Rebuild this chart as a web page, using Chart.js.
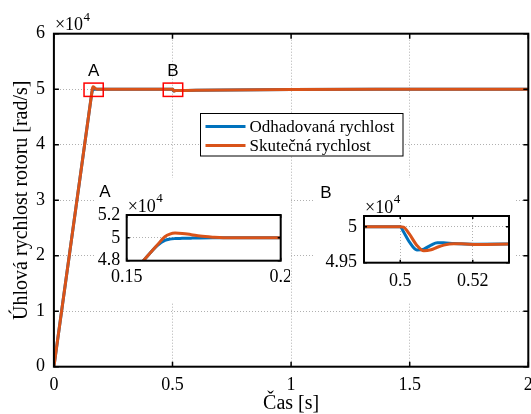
<!DOCTYPE html>
<html>
<head>
<meta charset="utf-8">
<script src="https://cdn.jsdelivr.net/npm/chart.js@4"></script>
<style>
  body { margin: 0; background: #fff; }
  #wrap { position: relative; width: 531px; height: 414px; overflow: hidden; }
  #wrap canvas { position: absolute; }
</style>
</head>
<body>
<div id="wrap">
  <canvas id="main" width="531" height="414" style="left:0;top:0"></canvas>
  <canvas id="zoomA" width="196" height="124" style="left:94px;top:178px"></canvas>
  <canvas id="zoomB" width="201" height="124" style="left:314px;top:178px"></canvas>
</div>
<script>
// time [s] and rotor speed [rad/s]
const time      = [0, 0.15, 0.1554, 0.16, 0.1624, 0.164, 0.1657, 0.168, 0.171, 0.1738, 0.178, 0.1814, 0.19, 0.25, 0.49, 0.5, 0.5009, 0.5025, 0.5046, 0.5065, 0.5085, 0.5102, 0.512, 0.5148, 0.518, 0.5213, 0.53, 0.6, 1.0, 1.5, 2.0];
const estimated = [0, 46330, 48000, 49350, 49780, 49890, 49935, 49955, 49975, 49990, 50000, 50000, 50000, 50000, 50000, 50000, 49930, 49790, 49676, 49690, 49745, 49778, 49776, 49766, 49760, 49757, 49760, 49800, 49930, 49980, 50000];
const actual    = [0, 46330, 48000, 49400, 50100, 50330, 50420, 50390, 50280, 50160, 50060, 50010, 50000, 50000, 50000, 50000, 49995, 49900, 49740, 49665, 49680, 49715, 49745, 49765, 49760, 49755, 49760, 49800, 49930, 49980, 50000];

const seriesLabels = ['Odhadovaná rychlost', 'Skutečná rychlost'];
const seriesColors = ['#0072BD', '#D95319'];

const mainXTicks = [0, 0.5, 1, 1.5, 2];
const mainYTicks = [0, 10000, 20000, 30000, 40000, 50000, 60000];
const zoomAXTicks = [0.15, 0.2];
const zoomAYTicks = [48000, 50000, 52000];
const zoomBXTicks = [0.5, 0.52];
const zoomBYTicks = [49500, 50000];

// zoomed regions marked on the main plot
const boxNames = ['A', 'B'];
const boxX = [[0.127, 0.208], [0.461, 0.543]];
const boxY = [48700, 51100];

const SERIF = '"Liberation Serif", "Times New Roman", serif';
const SANS = '"Liberation Sans", Arial, sans-serif';

function datasets() {
  return [0, 1].map(i => ({
    label: seriesLabels[i],
    data: time.map((t, k) => ({ x: t, y: (i === 0 ? estimated : actual)[k] })),
    borderColor: seriesColors[i],
    backgroundColor: seriesColors[i],
    borderWidth: 3,
    pointRadius: 0,
    fill: false,
    cubicInterpolationMode: 'monotone',
    order: i === 0 ? 1 : 0
  }));
}

function axis(min, max, ticks, pad, fit, fmt, title) {
  const a = {
    type: 'linear', min: min, max: max,
    afterBuildTicks: s => { s.ticks = ticks.map(v => ({ value: v })); },
    afterFit: fit,
    grid: { color: '#b0b0b0', lineWidth: 1, drawTicks: false },
    border: { display: false, dash: [1, 2] },
    ticks: { padding: pad, color: '#000', autoSkip: false, maxRotation: 0,
             font: { family: SERIF, size: 18 }, callback: fmt }
  };
  if (title) a.title = title;
  return a;
}

// box, inward ticks, exponent and panel label
const framePlugin = {
  id: 'frame',
  beforeDraw(chart) {
    const ctx = chart.ctx;
    ctx.save();
    ctx.fillStyle = '#fff';
    ctx.fillRect(0, 0, chart.width, chart.height);
    ctx.restore();
  },
  afterDraw(chart, args, o) {
    const { ctx, chartArea: a, scales: { x, y } } = chart;
    ctx.save();
    ctx.strokeStyle = '#000';
    ctx.lineWidth = 1.5;
    ctx.beginPath();
    x.ticks.forEach(t => {
      const px = x.getPixelForValue(t.value);
      ctx.moveTo(px, a.bottom); ctx.lineTo(px, a.bottom - o.tick);
      ctx.moveTo(px, a.top); ctx.lineTo(px, a.top + o.tick);
    });
    y.ticks.forEach(t => {
      const py = y.getPixelForValue(t.value);
      ctx.moveTo(a.left, py); ctx.lineTo(a.left + o.tick, py);
      ctx.moveTo(a.right, py); ctx.lineTo(a.right - o.tick, py);
    });
    ctx.stroke();
    ctx.lineWidth = 2;
    ctx.strokeRect(a.left, a.top, a.right - a.left, a.bottom - a.top);

    ctx.fillStyle = '#000';
    ctx.textBaseline = 'alphabetic';
    ctx.textAlign = 'left';
    ctx.font = '18px ' + SERIF;
    ctx.fillText('×10', a.left + 1, a.top - 3.5);
    const w = ctx.measureText('×10').width;
    ctx.font = '13px ' + SERIF;
    ctx.fillText('4', a.left + 1 + w + 0.5, a.top - 13);

    if (o.label) {
      ctx.font = '17px ' + SANS;
      ctx.textAlign = 'center';
      ctx.textBaseline = 'middle';
      ctx.fillText(o.label, o.labelX, o.labelY);
    }
    ctx.restore();
  }
};

// red region boxes and legend on the main plot
const markPlugin = {
  id: 'marks',
  afterDatasetsDraw(chart) {
    const { ctx, scales: { x, y } } = chart;
    ctx.save();
    boxNames.forEach((n, i) => {
      const x0 = x.getPixelForValue(boxX[i][0]), x1 = x.getPixelForValue(boxX[i][1]);
      const y0 = y.getPixelForValue(boxY[1]), y1 = y.getPixelForValue(boxY[0]);
      ctx.strokeStyle = '#ff0000';
      ctx.lineWidth = 1.5;
      ctx.strokeRect(x0, y0, x1 - x0, y1 - y0);
      ctx.fillStyle = '#000';
      ctx.font = '17px ' + SANS;
      ctx.textAlign = 'center';
      ctx.textBaseline = 'middle';
      ctx.fillText(n, (x0 + x1) / 2, y0 - 12);
    });

    // legend
    const lx = 200.5, ly = 113.5, lw = 202.5, lh = 42.5;
    ctx.fillStyle = '#fff';
    ctx.fillRect(lx, ly, lw, lh);
    ctx.strokeStyle = '#000';
    ctx.lineWidth = 1;
    ctx.strokeRect(lx, ly, lw, lh);
    chart.data.datasets.forEach((d, i) => {
      const cy = ly + 13 + i * 19;
      ctx.strokeStyle = d.borderColor;
      ctx.lineWidth = 3;
      ctx.beginPath();
      ctx.moveTo(lx + 5, cy); ctx.lineTo(lx + 45, cy);
      ctx.stroke();
      ctx.fillStyle = '#000';
      ctx.font = '17px ' + SERIF;
      ctx.textAlign = 'left';
      ctx.textBaseline = 'middle';
      ctx.fillText(d.label, lx + 49, cy + 1);
    });
    ctx.restore();
  }
};

const per1e4 = v => String(+(v / 10000).toFixed(4));
const plain = v => String(v);

function baseOptions(pad, frame, xAxis, yAxis) {
  return {
    responsive: false,
    animation: false,
    devicePixelRatio: 1,
    layout: { padding: pad },
    plugins: { legend: { display: false }, tooltip: { enabled: false }, frame: frame },
    scales: { x: xAxis, y: yAxis }
  };
}

new Chart(document.getElementById('main'), {
  type: 'line',
  data: { datasets: datasets() },
  options: baseOptions(
    { left: 0, right: 2.7, top: 33.7, bottom: 0 },
    { tick: 5 },
    axis(0, 2, mainXTicks, 8, s => { s.height = 47.3; s.paddingLeft = 0; s.paddingRight = 0; }, plain,
      { display: true, text: 'Čas [s]', color: '#000', font: { family: SERIF, size: 20, lineHeight: 1 }, padding: { top: 0, bottom: 0.75 } }),
    axis(0, 60000, mainYTicks, 9, s => { s.width = 53.9; s.paddingTop = 0; s.paddingBottom = 0; }, per1e4,
      { display: true, text: 'Úhlová rychlost rotoru [rad/s]', color: '#000', font: { family: SERIF, size: 20, lineHeight: 1 }, padding: { top: 11.5, bottom: 0 } })
  ),
  plugins: [framePlugin, markPlugin]
});

new Chart(document.getElementById('zoomA'), {
  type: 'line',
  data: { datasets: datasets() },
  options: baseOptions(
    { left: 0, right: 9.3, top: 37, bottom: 0 },
    { tick: 3, label: 'A', labelX: 11, labelY: 14 },
    axis(0.15, 0.2, zoomAXTicks, 6, s => { s.height = 41.3; s.paddingLeft = 0; s.paddingRight = 0; }, plain),
    axis(48000, 52000, zoomAYTicks, 6.5, s => { s.width = 32.7; s.paddingTop = 0; s.paddingBottom = 0; }, per1e4)
  ),
  plugins: [framePlugin]
});

new Chart(document.getElementById('zoomB'), {
  type: 'line',
  data: { datasets: datasets() },
  options: baseOptions(
    { left: 0, right: 6, top: 38, bottom: 0 },
    { tick: 3, label: 'B', labelX: 12, labelY: 15 },
    axis(0.49, 0.53, zoomBXTicks, 8, s => { s.height = 39.3; s.paddingLeft = 0; s.paddingRight = 0; }, plain),
    axis(49500, 50150, zoomBYTicks, 7, s => { s.width = 50; s.paddingTop = 0; s.paddingBottom = 0; }, per1e4)
  ),
  plugins: [framePlugin]
});
</script>
</body>
</html>
